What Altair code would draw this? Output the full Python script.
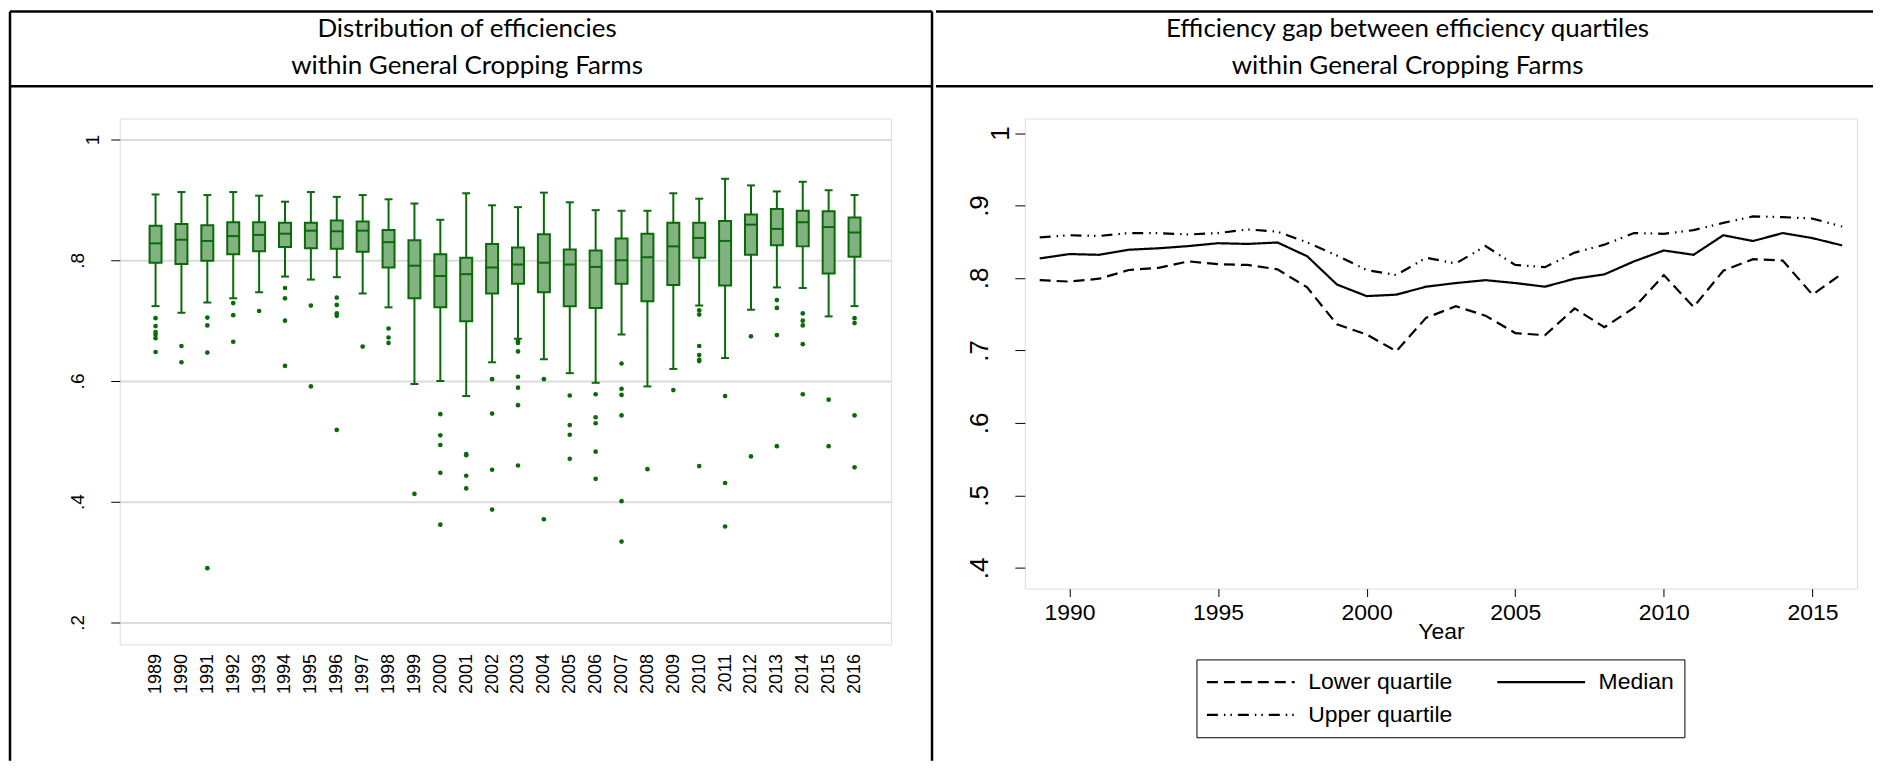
import altair as alt
import pandas as pd

# ---------------- data ----------------
years = list(range(1989, 2017))

# left panel: box plot statistics
box_hi = [0.909, 0.913, 0.908, 0.913, 0.907, 0.897, 0.913, 0.905, 0.908, 0.901, 0.894, 0.867, 0.911, 0.891,
          0.888, 0.912, 0.896, 0.883, 0.882, 0.882, 0.911, 0.902, 0.935, 0.924, 0.914, 0.930, 0.916, 0.908]
box_q3 = [0.857, 0.860, 0.858, 0.863, 0.863, 0.862, 0.862, 0.866, 0.864, 0.850, 0.833, 0.810, 0.804, 0.827,
          0.821, 0.843, 0.818, 0.816, 0.836, 0.844, 0.862, 0.862, 0.865, 0.876, 0.885, 0.882, 0.881, 0.871]
box_med = [0.828, 0.834, 0.832, 0.840, 0.842, 0.844, 0.849, 0.848, 0.849, 0.830, 0.791, 0.774, 0.777, 0.788,
           0.793, 0.796, 0.793, 0.789, 0.800, 0.805, 0.823, 0.837, 0.832, 0.859, 0.852, 0.863, 0.855, 0.846]
box_q1 = [0.796, 0.794, 0.799, 0.810, 0.815, 0.822, 0.820, 0.819, 0.814, 0.788, 0.737, 0.722, 0.699, 0.745,
          0.761, 0.747, 0.724, 0.721, 0.761, 0.732, 0.759, 0.804, 0.758, 0.809, 0.825, 0.823, 0.778, 0.806]
box_lo = [0.724, 0.713, 0.730, 0.737, 0.747, 0.773, 0.768, 0.772, 0.745, 0.722, 0.595, 0.600, 0.575, 0.631,
          0.670, 0.636, 0.613, 0.597, 0.677, 0.591, 0.620, 0.725, 0.638, 0.718, 0.755, 0.754, 0.707, 0.724]

outliers = {
    1989: [0.704, 0.691, 0.681, 0.677, 0.671, 0.648],
    1990: [0.658, 0.631],
    1991: [0.705, 0.692, 0.647, 0.290],
    1992: [0.729, 0.709, 0.665],
    1993: [0.716],
    1994: [0.754, 0.737, 0.700, 0.625],
    1995: [0.725, 0.591],
    1996: [0.738, 0.726, 0.712, 0.708, 0.519],
    1997: [0.657],
    1998: [0.687, 0.672, 0.663],
    1999: [0.413],
    2000: [0.545, 0.510, 0.494, 0.448, 0.362],
    2001: [0.479, 0.477, 0.443, 0.422],
    2002: [0.603, 0.546, 0.453, 0.387],
    2003: [0.666, 0.663, 0.649, 0.607, 0.589, 0.560, 0.460],
    2004: [0.603, 0.371],
    2005: [0.576, 0.527, 0.511, 0.471],
    2006: [0.578, 0.540, 0.530, 0.483, 0.438],
    2007: [0.629, 0.587, 0.577, 0.543, 0.401, 0.334],
    2008: [0.454],
    2009: [0.585],
    2010: [0.717, 0.710, 0.658, 0.643, 0.635, 0.633, 0.459],
    2011: [0.575, 0.431, 0.359],
    2012: [0.674, 0.475],
    2013: [0.734, 0.721, 0.676, 0.492],
    2014: [0.712, 0.700, 0.692, 0.661, 0.578],
    2015: [0.569, 0.492],
    2016: [0.704, 0.696, 0.543, 0.457],
}

# right panel: quartile lines
q_upper = [0.856, 0.859, 0.858, 0.862, 0.862, 0.860, 0.862, 0.867, 0.864, 0.849, 0.831, 0.811, 0.804, 0.828,
           0.820, 0.844, 0.818, 0.815, 0.835, 0.846, 0.862, 0.861, 0.866, 0.876, 0.885, 0.884, 0.882, 0.871]
q_median = [0.827, 0.833, 0.832, 0.839, 0.841, 0.844, 0.848, 0.847, 0.849, 0.830, 0.791, 0.775, 0.777, 0.788,
            0.793, 0.797, 0.793, 0.788, 0.799, 0.805, 0.823, 0.838, 0.832, 0.859, 0.851, 0.862, 0.855, 0.845]
q_lower = [0.797, 0.795, 0.799, 0.811, 0.814, 0.823, 0.819, 0.818, 0.812, 0.787, 0.736, 0.722, 0.699, 0.745,
           0.761, 0.748, 0.724, 0.721, 0.758, 0.732, 0.759, 0.804, 0.760, 0.810, 0.826, 0.824, 0.777, 0.806]

# legend order (column-major fill): Lower / Upper in column 1, Median in column 2
series_names = ["Lower quartile", "Upper quartile", "Median"]
left_ticks = [0.2, 0.4, 0.6, 0.8, 1.0]
right_ticks = [0.4, 0.5, 0.6, 0.7, 0.8, 0.9, 1.0]
right_years = [1990, 1995, 2000, 2005, 2010, 2015]

title_left = ["Distribution of efficiencies", "within General Cropping Farms"]
title_right = ["Efficiency gap between efficiency quartiles", "within General Cropping Farms"]

# ---------------- tables ----------------
box_df = pd.DataFrame({"year": years, "lo": box_lo, "q1": box_q1, "med": box_med,
                       "q3": box_q3, "hi": box_hi})
out_df = pd.DataFrame([{"year": y, "value": v} for y, vals in outliers.items() for v in vals])
line_df = pd.DataFrame(
    [{"year": y, "value": v, "series": "Lower quartile"} for y, v in zip(years, q_lower)]
    + [{"year": y, "value": v, "series": "Median"} for y, v in zip(years, q_median)]
    + [{"year": y, "value": v, "series": "Upper quartile"} for y, v in zip(years, q_upper)]
)
deco = alt.Data(values=[{"k": 0}])

# ---------------- style ----------------
DARK = "#0a6a0a"
FILL = "#82b27f"
SANS = "Liberation Sans, Arial, sans-serif"
TFONT = "Lato, Open Sans, sans-serif"
LABEL_EXPR = "datum.value >= 1 ? '1' : replace(format(datum.value, '.1f'), '0.', '.')"
BASELINE_COND = {"condition": {"test": "datum.value >= 1", "value": "top"}, "value": "alphabetic"}

W1, H1 = 773, 527
W2, H2 = 834, 471
TOP = -107.4      # top table border (relative to plot top)
SEP = -32.4       # separator under the titles
BOTTOM = 643.6
LEFT_EDGE = -110

# ---------------- left panel ----------------
xl = alt.X("year:Q",
           scale=alt.Scale(domain=[1987.81, 2017.22], nice=False, zero=False),
           axis=alt.Axis(values=years, format="d", labelAngle=270, labelAlign="right",
                         labelBaseline="middle", labelFont=SANS, labelFontSize=18,
                         labelOverlap=False, labelBound=False, labelFlush=False,
                         ticks=False, tickSize=0, labelPadding=9, grid=False, domain=False,
                         title=None, labelColor="black"))
yl_scale = alt.Scale(domain=[0.1636, 1.0347], nice=False, zero=False)
yl_axis = alt.Axis(values=left_ticks, labelExpr=LABEL_EXPR, labelAngle=270, labelAlign="center",
                   labelBaseline=BASELINE_COND, labelFont=SANS, labelFontSize=19,
                   labelOverlap=False, labelFlush=False,
                   labelPadding=27, tickSize=9, tickColor="black", tickWidth=1,
                   grid=True, gridColor="#dcdcdc", gridWidth=2, domain=False, title=None,
                   labelColor="black")
yl = alt.Y("lo:Q", scale=yl_scale, axis=yl_axis)

base_l = alt.Chart(box_df)
whisk = base_l.mark_rule(color=DARK, strokeWidth=2).encode(x=xl, y=yl, y2="hi:Q")
cap_lo = base_l.mark_tick(orient="horizontal", color=DARK, size=8, thickness=2, opacity=1).encode(
    x=xl, y=yl)
cap_hi = base_l.mark_tick(orient="horizontal", color=DARK, size=8, thickness=2, opacity=1).encode(
    x=xl, y=alt.Y("hi:Q", scale=yl_scale, axis=yl_axis))
boxes = base_l.mark_bar(size=12, fill=FILL, stroke=DARK, strokeWidth=2, opacity=1).encode(
    x=xl, y=alt.Y("q1:Q", scale=yl_scale, axis=yl_axis), y2="q3:Q")
medians = base_l.mark_tick(orient="horizontal", color=DARK, size=13, thickness=2, opacity=1).encode(
    x=xl, y=alt.Y("med:Q", scale=yl_scale, axis=yl_axis))
outs = alt.Chart(out_df).mark_circle(color=DARK, size=22, opacity=1).encode(
    x=xl, y=alt.Y("value:Q", scale=yl_scale, axis=yl_axis))

def hrule(x1, x2, y):
    return alt.Chart(deco).mark_rule(color="black", strokeWidth=2.5).encode(
        x=alt.value(x1), x2=alt.value(x2), y=alt.value(y))

def vrule(x, y1, y2):
    return alt.Chart(deco).mark_rule(color="black", strokeWidth=2.5).encode(
        x=alt.value(x), y=alt.value(y1), y2=alt.value(y2))

def ttext(x, y, txt):
    return alt.Chart(deco).mark_text(font=TFONT, fontSize=26, align="center", baseline="middle",
                                     color="black").encode(
        x=alt.value(x), y=alt.value(y), text=alt.value(txt))

left = alt.layer(
    whisk, cap_lo, cap_hi, boxes, medians, outs,
    hrule(LEFT_EDGE, 814, TOP), hrule(LEFT_EDGE, 814, SEP),
    vrule(LEFT_EDGE, TOP, BOTTOM), vrule(814, TOP, BOTTOM),
    ttext(348, -89.4, title_left[0]), ttext(348, -52.4, title_left[1]),
).properties(width=W1, height=H1)

# ---------------- right panel ----------------
xr = alt.X("year:Q",
           scale=alt.Scale(domain=[1988.5, 2016.5], nice=False, zero=False),
           axis=alt.Axis(values=right_years, format="d", labelFont=SANS, labelFontSize=23,
                         tickSize=8, tickColor="black", labelPadding=5, grid=False, domain=False,
                         title="Year", titleFont=SANS, titleFontSize=23, titleFontWeight="normal",
                         titlePadding=-4, titleColor="black", labelColor="black"))
yr = alt.Y("value:Q",
           scale=alt.Scale(domain=[0.3714, 1.02], nice=False, zero=False),
           axis=alt.Axis(values=right_ticks, labelExpr=LABEL_EXPR, labelAngle=270, labelAlign="center",
                         labelBaseline=BASELINE_COND, labelFont=SANS, labelFontSize=26,
                         labelPadding=27, tickSize=10, tickColor="black", grid=False, domain=False,
                         title=None, labelColor="black"))

lines = alt.Chart(line_df).mark_line(color="black", strokeWidth=2.2).encode(
    x=xr, y=yr,
    strokeDash=alt.StrokeDash(
        "series:N",
        scale=alt.Scale(domain=series_names, range=[[11, 6], [11, 6, 1.5, 5, 1.5, 6], [1, 0]]),
        legend=alt.Legend(orient="none", legendX=1079, legendY=542, columns=2, title=None,
                          symbolType="M-4,0H4", symbolSize=484, symbolStrokeWidth=2.2,
                          symbolStrokeColor="black", symbolOffset=32, labelOffset=45,
                          labelFont=SANS, labelFontSize=23, labelColor="black",
                          strokeColor="black", fillColor="white", padding=10,
                          rowPadding=8, columnPadding=40, labelLimit=400)),
    detail="series:N",
)

right = alt.layer(
    lines,
    hrule(-89, 850, TOP), hrule(-89, 850, SEP),
    ttext(383.5, -89.4, title_right[0]), ttext(383.5, -52.4, title_right[1]),
).properties(width=W2, height=H2)

chart = alt.hconcat(left, right, spacing=0).properties(padding=0).configure_view(
    stroke="black", strokeWidth=1.5).configure_axisX(
    labelOverlap=False).configure(background="white")

chart.save("out.html", embed_options={"renderer": "svg", "actions": False})
